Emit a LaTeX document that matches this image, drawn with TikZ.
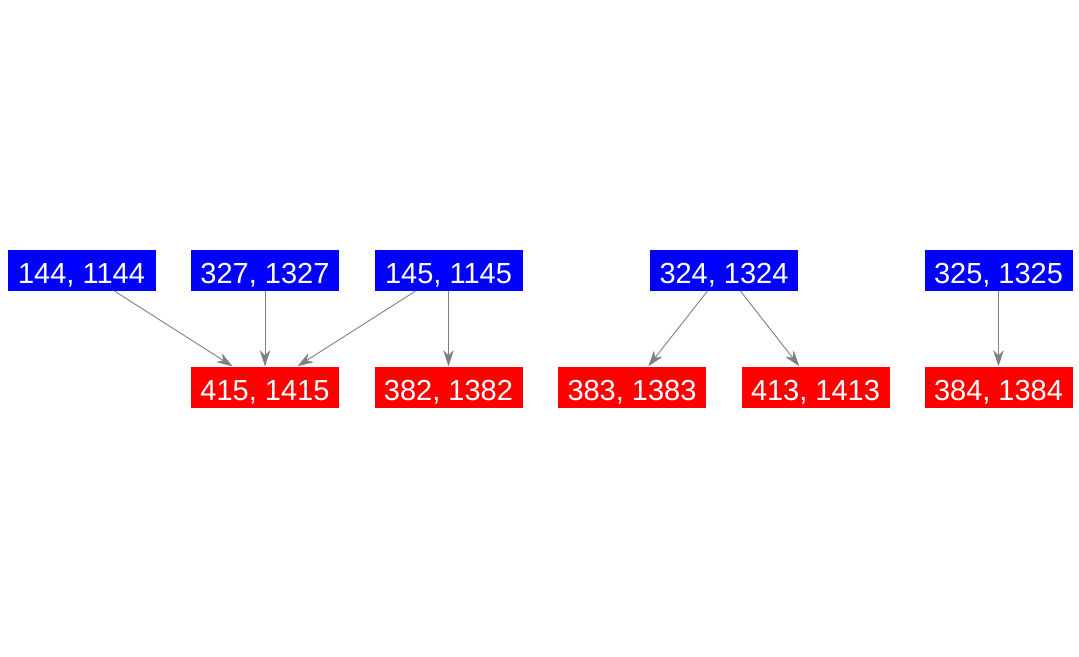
\documentclass[tikz,border=0pt]{standalone}
\usepackage{fontspec}
\setmainfont{Liberation Sans}
\usetikzlibrary{arrows.meta}
\definecolor{nblue}{RGB}{0,0,255}
\definecolor{nred}{RGB}{255,0,0}
\definecolor{egray}{RGB}{128,128,128}
\tikzset{
  box/.style={minimum width=148pt, minimum height=41pt, inner sep=0pt, text=white,
    text height=27pt, text depth=0pt, font=\fontsize{29}{32}\selectfont},
  bluebox/.style={box, fill=nblue},
  redbox/.style={box, fill=nred},
  edge/.style={draw=egray, line width=0.9pt, -{Stealth[length=16pt,width=10.5pt,inset=5pt]}}
}
\begin{document}
\begin{tikzpicture}[x=1pt,y=-1pt]
\useasboundingbox (0,0) rectangle (1079,656);
\node[bluebox] (b144) at (81.5,270) {144, 1144};
\node[bluebox] (b327) at (265,270) {327, 1327};
\node[bluebox] (b145) at (448.5,270) {145, 1145};
\node[bluebox] (b324) at (724,270) {324, 1324};
\node[bluebox] (b325) at (998.5,270) {325, 1325};
\node[redbox] (r415) at (265,387) {415, 1415};
\node[redbox] (r382) at (448.5,387) {382, 1382};
\node[redbox] (r383) at (632,387) {383, 1383};
\node[redbox] (r413) at (815.5,387) {413, 1413};
\node[redbox] (r384) at (998.5,387) {384, 1384};
\draw[edge] (b144) -- (r415);
\draw[edge] (b327) -- (r415);
\draw[edge] (b145) -- (r415);
\draw[edge] (b145) -- (r382);
\draw[edge] (b324) -- (r383);
\draw[edge] (b324) -- (r413);
\draw[edge] (b325) -- (r384);
\end{tikzpicture}
\end{document}
